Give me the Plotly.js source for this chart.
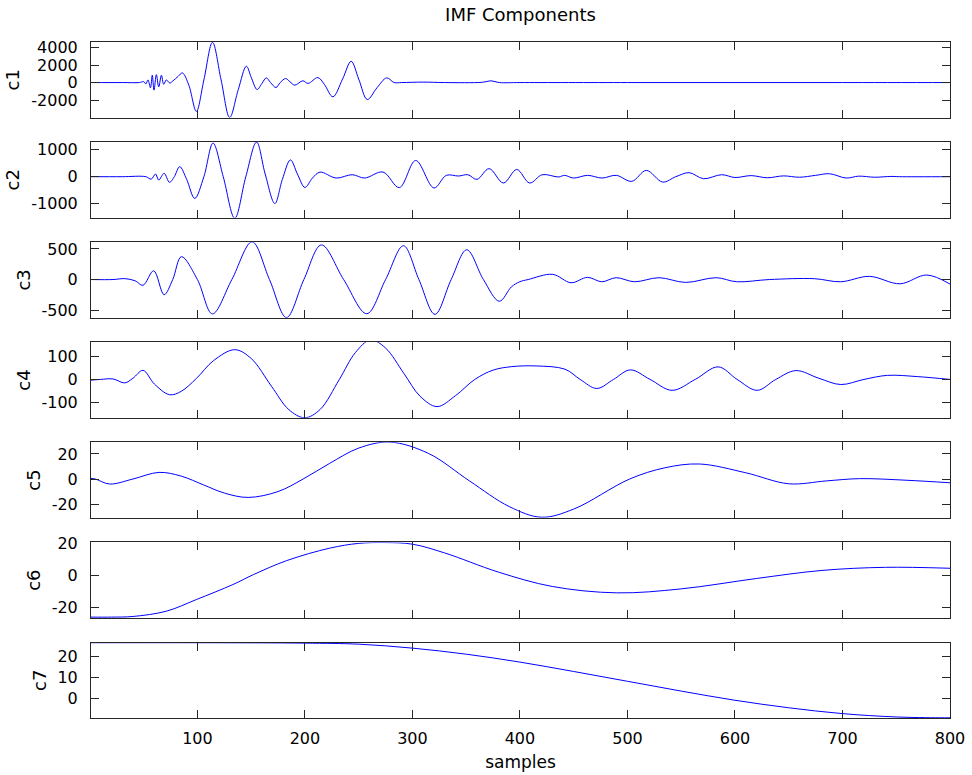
<!DOCTYPE html>
<html>
<head>
<meta charset="utf-8">
<script src="https://cdn.plot.ly/plotly-3.0.1.min.js"></script>
<style>html,body{margin:0;padding:0;background:#fff;}#chart{width:972px;height:775px;}</style>
</head>
<body>
<div id="chart"></div>
<script>
// ---- data ----
const titleText = "IMF Components";
const xLabel = "samples";
const seriesNames = ["c1", "c2", "c3", "c4", "c5", "c6", "c7"];
const xTicks = [100, 200, 300, 400, 500, 600, 700, 800];

const c1x = [1, 30, 46, 50, 52, 54, 56.3, 58, 59.6, 61.8, 64, 66.5, 68.6, 71.1, 74.2, 77.3, 82, 86, 92, 99, 106, 114, 122, 130, 138, 145.5, 150, 155.5, 160, 164, 168, 173, 177, 182, 186, 190.5, 198, 203, 212, 218, 226, 235, 243, 250, 258, 267, 276, 283, 290, 310, 330, 365, 373, 381, 400, 500, 600, 700, 800];
const c1y = [0, 0, 0, 100, -150, 300, -600, 840, -870, 900, -500, 840, -200, 300, -50, 200, 700, 1100, -300, -3300, 300, 4600, 300, -4000, -800, 1870, 600, -800, -100, 530, 0, -570, 0, 460, 100, -300, 200, -100, 570, -200, -1630, 400, 2430, 400, -1940, -600, 530, 0, 0, 50, 0, 30, 190, 0, 0, 0, 0, 0, 0];

const c2x = [1, 30, 52, 57, 61, 64, 69, 74, 78.5, 83.5, 90, 97.5, 106, 114.5, 124, 134.7, 145, 155, 163, 172, 179, 186.5, 193, 200, 207, 214, 229, 244, 255.5, 272.6, 287.8, 303, 320, 331.5, 343, 351.5, 360, 371.3, 384.6, 397, 409, 420.7, 436, 441.6, 449.7, 462.9, 476.3, 489.6, 504, 517.5, 532.7, 545, 557.4, 570.7, 587.7, 600, 615, 630, 645, 660, 675, 688, 703.5, 715, 730, 745, 753, 800];
const c2y = [0, 0, 0, -90, 100, -125, 125, -210, 0, 375, -100, -810, 0, 1250, 0, -1550, 0, 1290, 100, -1000, -100, 625, 100, -400, -50, 170, -50, 74, -50, 173, -407, 605, -420, 50, 25, 74, -100, 300, -235, 270, -235, 74, -10, 50, -50, 50, -50, 50, -173, 235, -200, 0, 150, -75, 74, -30, 40, -40, 30, -20, 50, 110, -50, 20, -20, 10, 0, 0];

const c3x = [1, 21.5, 32.4, 42, 49.4, 59.3, 69, 77, 85.1, 100, 113.9, 132, 150.8, 167, 182.8, 199, 215.3, 236, 257.5, 275, 291.6, 306, 320.9, 336, 350.5, 366, 380.8, 392, 399.8, 407.6, 430.4, 447.5, 462.8, 476.1, 489.4, 506.5, 529.3, 554.1, 582.5, 601.6, 632, 673.8, 698.3, 725.1, 753.6, 778.3, 800];
const c3y = [0, 0, 15, -20, -93, 143, -247, 0, 373, 0, -560, 0, 615, 0, -620, 0, 565, 0, -557, 0, 552, 0, -568, 0, 486, 0, -354, -120, -36, 0, 85, -52, 36, -36, 30, -36, 30, -47, 30, -36, 0, 14, -36, 52, -69, 74, -74];

const c4x = [1, 10, 21.5, 32.4, 40, 49.4, 60, 74.2, 85, 99, 115, 134.7, 150, 168.8, 185, 199.8, 214, 232, 247, 261, 275, 292, 307, 322.9, 340, 358, 375, 392.4, 415, 441.9, 456, 471.5, 487, 502.7, 521, 541.5, 563, 584.4, 602, 620.6, 638, 656.6, 678, 698.4, 720, 742, 770, 800];
const c4y = [-3, 0, 2, -15, 5, 39, -20, -66, -51, 4, 81, 128, 90, -29, -130, -165, -130, 0, 116, 170, 135, 26, -72, -117, -70, 0, 40, 55, 58, 44, 0, -39, 0, 41, 0, -47, 0, 54, 0, -47, 0, 38, 5, -22, 0, 17.5, 12, 0];

const c5x = [1, 5, 18.4, 40, 64.3, 85, 105.7, 125, 147.1, 175, 198.3, 223, 250, 279, 315, 353, 390, 420, 450, 502, 535, 567, 610, 650, 685, 716, 760, 800];
const c5y = [0.5, 0, -4, 0, 5.3, 2.3, -4.7, -11.2, -14.7, -10, 0, 12.5, 24.7, 29.5, 20.4, -1.5, -22, -30.5, -24, 0, 9, 12, 5, -3.8, -1.5, 0.3, -1, -3];

const c6x = [1, 20, 40, 71, 99, 133, 152, 183, 223, 250, 275, 300, 330, 380, 430, 490, 550, 620, 680, 740, 800];
const c6y = [-26.2, -26.2, -25.8, -22.5, -15.2, -5.8, 0.4, 9.2, 17, 20, 20.5, 19.5, 14, 2, -7, -11, -8.5, -2, 3, 5, 4.4];

const c7x = [1, 100, 200, 250, 300, 350, 400, 450, 500, 550, 600, 650, 700, 750, 790, 800];
const c7y = [26.8, 26.8, 26.6, 26.1, 24.2, 21.3, 17.5, 13.0, 8.3, 3.6, -0.8, -4.4, -7.2, -8.8, -9.2, -9.2];

const yRanges = [[-4000, 4640], [-1524, 1290], [-622, 610], [-165, 160], [-31, 29.3], [-26.7, 20.6], [-9.3, 26.9]];
const yTicks = [[-2000, 0, 2000, 4000], [-1000, 0, 1000], [-500, 0, 500], [-100, 0, 100], [-20, 0, 20], [-20, 0, 20], [0, 10, 20]];

const xs = [c1x, c2x, c3x, c4x, c5x, c6x, c7x];
const ys = [c1y, c2y, c3y, c4y, c5y, c6y, c7y];

// ---- layout ----
const W = 972, H = 775;
const mL = 91, mR = 22, mT = 42, mB = 57;
const plotH = H - mT - mB;
const subH = 75.5;
const step = (plotH - subH) / 6;
const axisColor = "#262626";
const fontFam = "DejaVu Sans, Arial, sans-serif";

const traces = [];
const layout = {
  width: W, height: H,
  margin: {l: mL, r: mR, t: mT, b: mB, pad: 0},
  paper_bgcolor: "#ffffff",
  plot_bgcolor: "#ffffff",
  showlegend: false,
  font: {family: fontFam, size: 16, color: "#000000"},
  title: {
    text: titleText,
    font: {family: fontFam, size: 18, color: "#000000"},
    x: 0.5, xref: "paper", xanchor: "center",
    y: 1 - 15 / H, yref: "container", yanchor: "middle"
  }
};

for (let i = 0; i < 7; i++) {
  const n = i === 0 ? "" : String(i + 1);
  traces.push({
    type: "scatter", mode: "lines",
    x: xs[i], y: ys[i],
    xaxis: "x" + n, yaxis: "y" + n,
    line: {color: "rgb(0,0,255)", width: 1, shape: "spline", smoothing: 1},
    hoverinfo: "skip"
  });
  const top = i * step;
  const dom = [1 - (top + subH) / plotH, 1 - top / plotH];
  if (dom[0] < 0) dom[0] = 0;
  layout["xaxis" + n] = {
    anchor: "y" + n,
    domain: [0, 1],
    range: [1, 800],
    tickmode: "array", tickvals: xTicks, ticktext: xTicks.map(String),
    showticklabels: i === 6,
    ticks: "inside", ticklen: 8, tickwidth: 1, tickcolor: axisColor,
    showline: true, linecolor: axisColor, linewidth: 1, mirror: "ticks",
    showgrid: false, zeroline: false,
    tickfont: {family: fontFam, size: 16, color: "#000000"},
    ticklabelstandoff: 6
  };
  if (i === 6) {
    layout["xaxis" + n].title = {text: xLabel, font: {family: fontFam, size: 17, color: "#000000"}, standoff: 8};
  }
  layout["yaxis" + n] = {
    anchor: "x" + n,
    domain: dom,
    range: yRanges[i],
    tickmode: "array", tickvals: yTicks[i], ticktext: yTicks[i].map(String),
    ticks: "inside", ticklen: 8, tickwidth: 1, tickcolor: axisColor,
    showline: true, linecolor: axisColor, linewidth: 1, mirror: "ticks",
    showgrid: false, zeroline: false,
    tickfont: {family: fontFam, size: 16, color: "#000000"},
    ticklabelstandoff: 9
  };
  layout["yaxis" + n].title = {text: seriesNames[i], font: {family: fontFam, size: 18, color: "#000000"}, standoff: 6};
}

Plotly.newPlot("chart", traces, layout, {staticPlot: true, displayModeBar: false});
</script>
</body>
</html>
